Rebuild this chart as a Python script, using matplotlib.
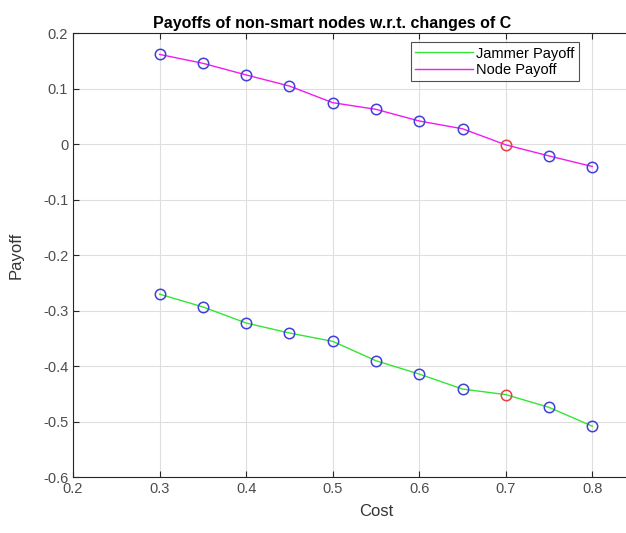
import numpy as np
import matplotlib.pyplot as plt

plt.rcParams['font.family'] = ['Liberation Sans', 'DejaVu Sans']

cost = [0.3, 0.35, 0.4, 0.45, 0.5, 0.55, 0.6, 0.65, 0.7, 0.75, 0.8]
jammer = [-0.270, -0.293, -0.322, -0.340, -0.355, -0.390, -0.414, -0.441, -0.451, -0.474, -0.508]
node = [0.162, 0.146, 0.125, 0.105, 0.075, 0.063, 0.042, 0.028, -0.001, -0.021, -0.040]
best_idx = 8  # point highlighted in red

fig = plt.figure(figsize=(6.26, 5.33), dpi=100)
ax = fig.add_axes([0.1166, 0.1045, 0.968, 0.833])

ax.plot(cost, jammer, color=(0.2, 0.9, 0.2), lw=1.0, label='Jammer Payoff')
ax.plot(cost, node, color=(0.95, 0.1, 0.95), lw=1.0, label='Node Payoff')
for ys in (jammer, node):
    for i, (x, y) in enumerate(zip(cost, ys)):
        c = (0.9, 0.25, 0.25) if i == best_idx else (0.25, 0.25, 0.85)
        ax.plot(x, y, 'o', mfc='none', mec=c, ms=7.5, mew=1.1)

ax.set_xlim(0.2, 0.9)
ax.set_ylim(-0.6, 0.2)
ax.set_xticks(np.arange(0.2, 0.81, 0.1))
ax.set_xticklabels(['0.2', '0.3', '0.4', '0.5', '0.6', '0.7', '0.8'])
ax.set_yticks(np.arange(-0.6, 0.21, 0.1))
ax.set_yticklabels(['-0.6', '-0.5', '-0.4', '-0.3', '-0.2', '-0.1', '0', '0.1', '0.2'])
ax.grid(True, color=(0.87, 0.87, 0.87), lw=0.8)
ax.set_axisbelow(True)
ax.tick_params(direction='in', length=4, labelsize=10.5, colors=(0.15, 0.15, 0.15),
               labelcolor=(0.3, 0.3, 0.3), top=True, right=True)
for s in ax.spines.values():
    s.set_color((0.15, 0.15, 0.15))
    s.set_linewidth(0.8)

ax.set_xlabel('Cost', fontsize=12, color=(0.2, 0.2, 0.2), labelpad=6)
ax.set_ylabel('Payoff', fontsize=12, color=(0.2, 0.2, 0.2), labelpad=14)
fig.text(0.53, 0.955, 'Payoffs of non-smart nodes w.r.t. changes of C',
         ha='center', va='center', fontsize=11.5, fontweight='bold')

leg = ax.legend(loc='upper right', bbox_to_anchor=(0.835, 0.98), fontsize=10.5,
                frameon=True, fancybox=False, edgecolor=(0.15, 0.15, 0.15),
                handlelength=4.0, handletextpad=0.2, borderpad=0.3,
                labelspacing=0.15, borderaxespad=0)
leg.get_frame().set_linewidth(0.8)

fig.savefig('out.png', dpi=100)
